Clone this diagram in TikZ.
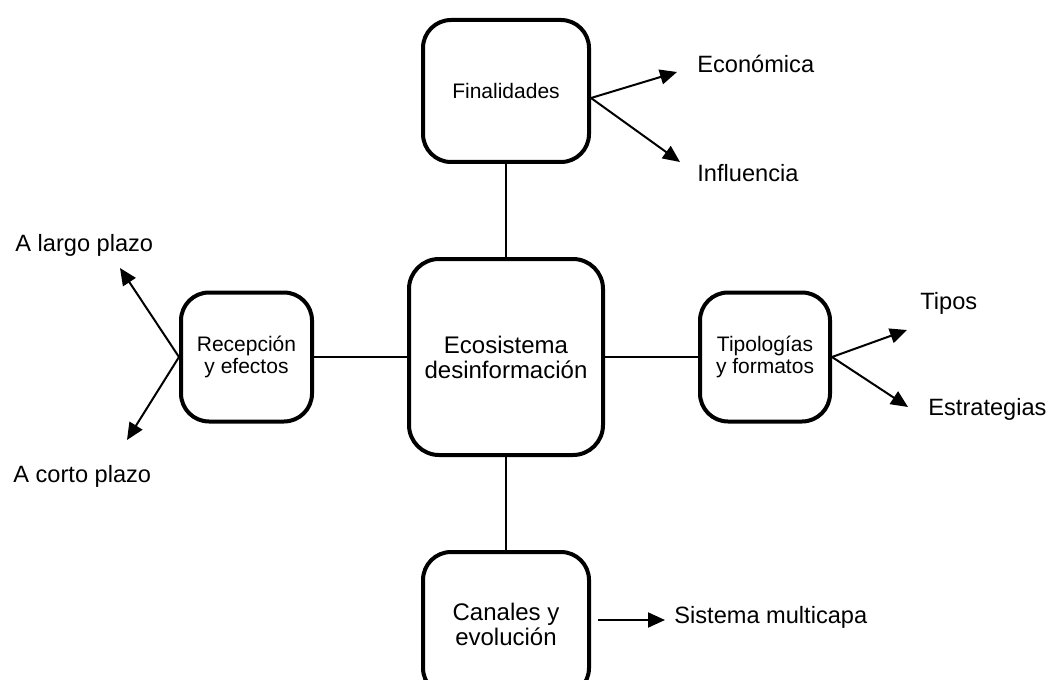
\documentclass[tikz,border=0pt]{standalone}
\usepackage{fontspec}
\setmainfont{Liberation Sans}
\usetikzlibrary{arrows.meta,positioning,calc}
\tikzset{
  ecobox/.style={
    draw,
    line width=2pt,
    rounded corners=14pt,
    align=center,
    inner sep=2pt,
    font=\fontsize{10.5}{11}\selectfont
  },
  ecolarge/.style={font=\fontsize{12}{12.5}\selectfont},
  ecolink/.style={line width=1pt},
  ecoarrow/.style={-{Triangle[length=8.5pt,width=7.5pt]},line width=1pt},
  ecolabel/.style={inner sep=0pt,anchor=base west,font=\fontsize{11.8}{13}\selectfont}
}

\begin{document}
\begin{tikzpicture}[x=0.5pt,y=-0.5pt,node distance=46.5pt]
      \useasboundingbox (0,0) rectangle (1047,679);
      % central box and the four around it
      \node[ecobox,ecolarge,minimum width=97pt,minimum height=98pt,
        rounded corners=15pt] (eco) at (506,357) {Ecosistema\\desinformación};
      \node[ecobox,minimum width=65.5pt,minimum height=64.5pt,left=of eco]
        (rec) {Recepción\\y efectos};
      \node[ecobox,minimum width=65pt,minimum height=64.5pt,right=of eco]
        (tipo) {Tipologías\\y formatos};
      \node[ecobox,minimum width=83pt,minimum height=71pt,above=of eco]
        (fin) {Finalidades};
      \node[ecobox,ecolarge,minimum width=83pt,minimum height=72pt,below=of eco]
        (can) {Canales y\\evolución};
      \draw[ecolink] (fin) -- (eco);
      \draw[ecolink] (rec) -- (eco);
      \draw[ecolink] (eco) -- (tipo);
      \draw[ecolink] (eco) -- (can);
      % outer labels
      \node[ecolabel] (econ) at (697,73) {Económica};
      \node[ecolabel] (infl) at (697,182) {Influencia};
      \node[ecolabel] (largo) at (15,251) {A largo plazo};
      \node[ecolabel] (corto) at (13,482) {A corto plazo};
      \node[ecolabel] (tipos) at (920,309) {Tipos};
      \node[ecolabel] (estr) at (928,415) {Estrategias};
      \node[ecolabel] (multi) at (674,623) {Sistema multicapa};
      % arrow ends
      \coordinate (finout) at ($(fin.east)+(0,7)$);
      \coordinate (canout) at ($(can.east)+(7,-4)$);
      \coordinate (econtip) at (677,72);
      \coordinate (infltip) at (680,162);
      \coordinate (largotip) at (120,268);
      \coordinate (cortotip) at (127,440);
      \coordinate (ampletip) at (907,330);
      \coordinate (estrtip) at (908,407);
      \coordinate (multitip) at (665,618);
      \draw[ecoarrow] (finout) -- (econtip);
      \draw[ecoarrow] (finout) -- (infltip);
      \draw[ecoarrow] (rec.west) -- (largotip);
      \draw[ecoarrow] (rec.west) -- (cortotip);
      \draw[ecoarrow] (tipo.east) -- (ampletip);
      \draw[ecoarrow] (tipo.east) -- (estrtip);
      \draw[ecoarrow] (canout) -- (canout -| multitip);
    \end{tikzpicture}
\end{document}
